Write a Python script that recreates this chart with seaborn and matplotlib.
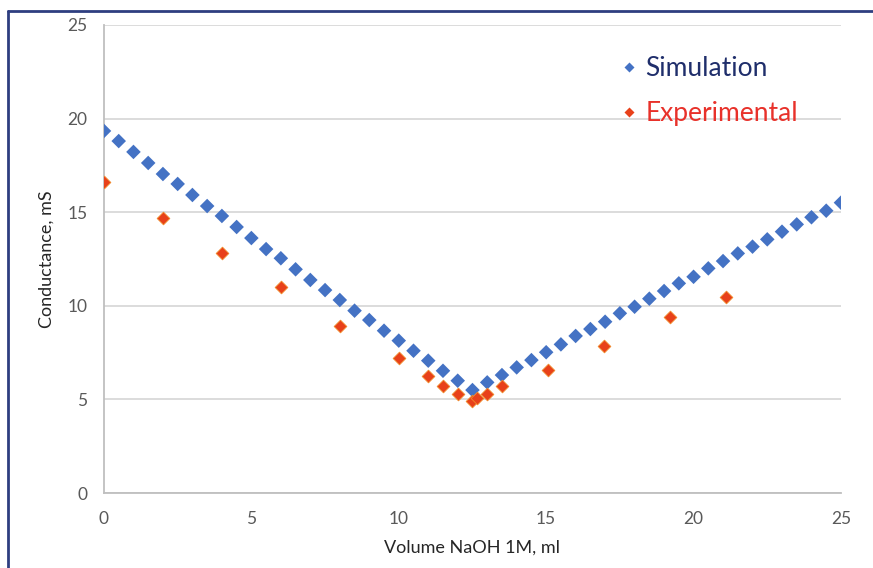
import matplotlib
matplotlib.use("Agg")
import pandas as pd
import seaborn as sns
import matplotlib.pyplot as plt
from matplotlib.lines import Line2D
from matplotlib.ticker import MultipleLocator

# Datos
vol_sim = [0, 0.5, 1, 1.5, 2, 2.5, 3, 3.5, 4, 4.5, 5, 5.5, 6, 6.5, 7, 7.5, 8, 8.5,
           9, 9.5, 10, 10.5, 11, 11.5, 12, 12.5, 13, 13.5, 14, 14.5, 15, 15.5, 16,
           16.5, 17, 17.5, 18, 18.5, 19, 19.5, 20, 20.5, 21, 21.5, 22, 22.5, 23,
           23.5, 24, 24.5, 25]
cond_sim = [19.34, 18.80, 18.22, 17.63, 17.04, 16.51, 15.92, 15.33, 14.80, 14.21,
            13.62, 13.03, 12.54, 11.95, 11.38, 10.84, 10.31, 9.74, 9.24, 8.67,
            8.14, 7.60, 7.07, 6.53, 6.00, 5.50, 5.91, 6.30, 6.71, 7.10, 7.52, 7.94,
            8.39, 8.76, 9.15, 9.60, 9.95, 10.38, 10.79, 11.20, 11.55, 12.00, 12.39,
            12.80, 13.16, 13.55, 13.96, 14.35, 14.73, 15.08, 15.51]

vol_exp = [0, 2, 4, 6, 8, 10, 11, 11.5, 12, 12.5, 12.65, 13, 13.5, 15.05, 16.95,
           19.2, 21.1]
cond_exp = [16.60, 14.67, 12.84, 10.99, 8.92, 7.19, 6.27, 5.74, 5.27, 4.90, 5.07,
            5.29, 5.70, 6.55, 7.87, 9.38, 10.45]

series = ['Simulation', 'Experimental']
colores = ['#4472C4', '#E8411A']
colores_texto = ['#1F2E6B', '#E8312A']

sim = pd.DataFrame({'vol': vol_sim, 'cond': cond_sim})
exp = pd.DataFrame({'vol': vol_exp, 'cond': cond_exp})

sns.set_style('white')
plt.rcParams['font.family'] = ['Lato', 'DejaVu Sans']

fig = plt.figure(figsize=(8.73, 5.68), dpi=100)
ax = fig.add_axes([0.1191, 0.1320, 0.8442, 0.824])

sns.scatterplot(data=sim, x='vol', y='cond', marker='D', s=55, color=colores[0],
                edgecolor='none', ax=ax, zorder=3)
sns.scatterplot(data=exp, x='vol', y='cond', marker='D', s=42, color=colores[1],
                edgecolor='#F08A2A', linewidth=0.6, ax=ax, zorder=3)

ax.set_xlim(0, 25)
ax.set_ylim(0, 25)
ax.xaxis.set_major_locator(MultipleLocator(5))
ax.yaxis.set_major_locator(MultipleLocator(5))
ax.xaxis.set_minor_locator(MultipleLocator(1))
ax.yaxis.set_minor_locator(MultipleLocator(1))
ax.grid(axis='y', which='major', color='#D9D9D9', linewidth=1.3, zorder=0)
ax.set_axisbelow(True)

for lado in ['top', 'right']:
    ax.spines[lado].set_visible(False)
for lado in ['left', 'bottom']:
    ax.spines[lado].set_color('#BFBFBF')
    ax.spines[lado].set_linewidth(1.3)

ax.tick_params(axis='both', which='both', direction='in', length=4, width=1,
               color='#BFBFBF', labelcolor='#595959', labelsize=12.5)
ax.tick_params(axis='y', which='major', length=0, pad=12)
ax.tick_params(axis='x', which='major', pad=13)

ax.set_xlabel('Volume NaOH 1M, ml', fontsize=13, color='#262626', labelpad=9)
ax.set_ylabel('Conductance, mS', fontsize=13, color='#262626', labelpad=9)

# Leyenda con texto coloreado
handles = [Line2D([], [], linestyle='none', marker='D', markersize=5.5,
                  color=c, markeredgecolor='none') for c in colores]
ax.legend(handles, series, loc='upper left', bbox_to_anchor=(0.661, 0.984),
          frameon=False, fontsize=19, labelcolor=colores_texto,
          handletextpad=0.05, handlelength=1.1, labelspacing=0.75)

# Marco del gráfico
fig.add_artist(Line2D([0.0092, 0.0092], [0, 0.981], color='#2E3E80', linewidth=2,
                      transform=fig.transFigure))
fig.add_artist(Line2D([0.0092, 1], [0.981, 0.981], color='#2E3E80', linewidth=2,
                      transform=fig.transFigure))

plt.savefig('out.png', dpi=100)
